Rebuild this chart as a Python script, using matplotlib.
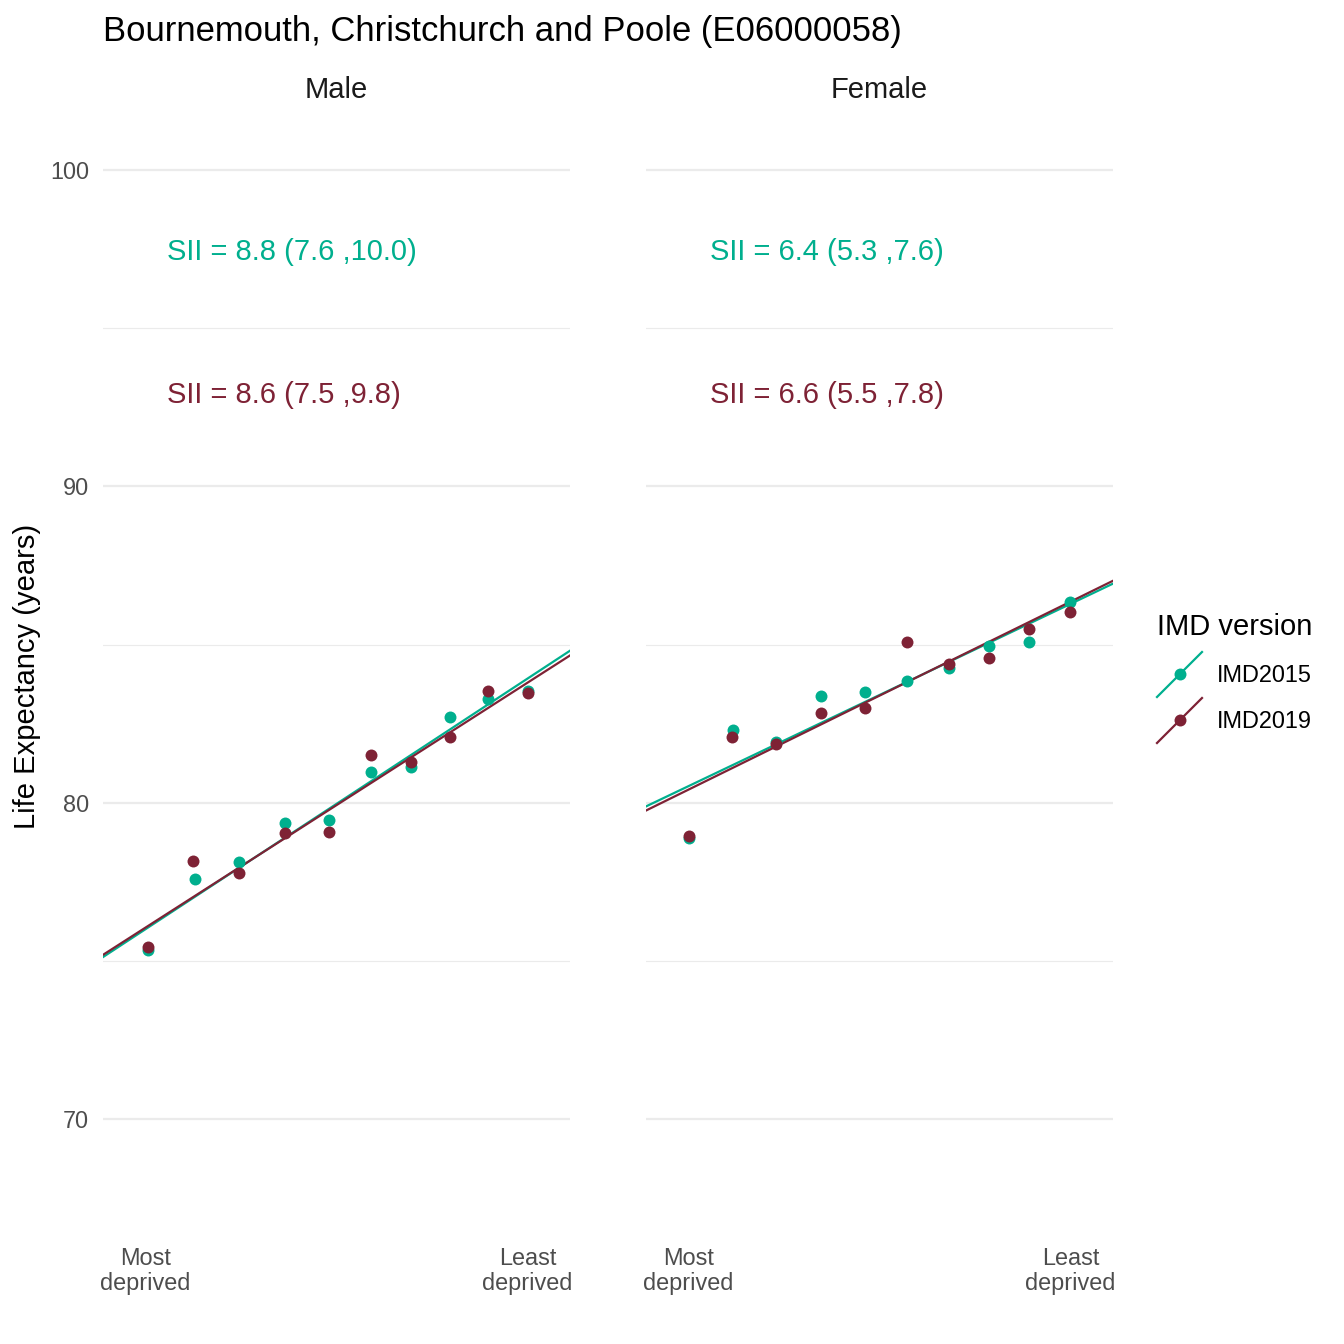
import matplotlib
matplotlib.use("Agg")
import matplotlib.pyplot as plt
from matplotlib.lines import Line2D

plt.rcParams['font.family'] = ['Liberation Sans', 'DejaVu Sans']

# ---- data ----
title = "Bournemouth, Christchurch and Poole (E06000058)"
panels = ["Male", "Female"]
versions = ["IMD2015", "IMD2019"]
colors = {"IMD2015": "#00AF8E", "IMD2019": "#7E2235"}

male_x_2015 = [0.055, 0.167, 0.270, 0.379, 0.482, 0.581, 0.675, 0.767, 0.858, 0.950]
male_x_2019 = [0.055, 0.162, 0.270, 0.379, 0.482, 0.581, 0.675, 0.767, 0.858, 0.950]
male_le_2015 = [75.36, 77.59, 78.13, 79.38, 79.46, 80.98, 81.15, 82.73, 83.27, 83.55]
male_le_2019 = [75.44, 78.15, 77.78, 79.04, 79.09, 81.52, 81.30, 82.08, 83.54, 83.47]

female_x_2015 = [0.052, 0.155, 0.256, 0.362, 0.466, 0.565, 0.663, 0.758, 0.852, 0.949]
female_x_2019 = [0.052, 0.153, 0.256, 0.362, 0.466, 0.565, 0.663, 0.758, 0.852, 0.949]
female_le_2015 = [78.88, 82.31, 81.91, 83.39, 83.51, 83.85, 84.25, 84.96, 85.07, 86.36]
female_le_2019 = [78.94, 82.07, 81.86, 82.85, 83.01, 85.09, 84.38, 84.57, 85.49, 86.02]

# regression (SII) lines: intercept at x=0 and slope = SII
male_intercept = {"IMD2015": 75.57, "IMD2019": 75.63}
female_intercept = {"IMD2015": 80.21, "IMD2019": 80.09}
male_sii = {"IMD2015": 8.8, "IMD2019": 8.6}
female_sii = {"IMD2015": 6.4, "IMD2019": 6.6}
male_sii_label = {"IMD2015": "SII = 8.8 (7.6 ,10.0)", "IMD2019": "SII = 8.6 (7.5 ,9.8)"}
female_sii_label = {"IMD2015": "SII = 6.4 (5.3 ,7.6)", "IMD2019": "SII = 6.6 (5.5 ,7.8)"}
label_y = {"IMD2015": 97.4, "IMD2019": 92.9}

y_ticks = [70, 80, 90, 100]
y_minor = [75, 85, 95]
x_ticks = [0.05, 0.95]
x_ticklabels = ["Most\ndeprived", "Least\ndeprived"]

# ---- figure ----
W = H = 1344
fig = plt.figure(figsize=(W / 100, H / 100), dpi=100)

def fx(px):
    return px / W

def fy(py):
    return 1 - py / H

panel_top, panel_bot = 106.7, 1246.0
panel_lefts = [103, 646]
panel_w = 467

data = {
    "Male": ({"IMD2015": (male_x_2015, male_le_2015), "IMD2019": (male_x_2019, male_le_2019)},
             male_intercept, male_sii, male_sii_label),
    "Female": ({"IMD2015": (female_x_2015, female_le_2015), "IMD2019": (female_x_2019, female_le_2019)},
               female_intercept, female_sii, female_sii_label),
}

tick_color = "#4D4D4D"
grid_color = "#EBEBEB"

for i, panel in enumerate(panels):
    left = panel_lefts[i]
    ax = fig.add_axes([fx(left), fy(panel_bot), panel_w / W, (panel_bot - panel_top) / H])
    ax.set_xlim(-0.05, 1.05)
    ax.set_ylim(66, 102)
    for s in ax.spines.values():
        s.set_visible(False)
    for v in y_ticks:
        ax.axhline(v, color=grid_color, lw=1.6, zorder=0)
    for v in y_minor:
        ax.axhline(v, color=grid_color, lw=0.8, zorder=0)
    pts, icpt, sii, labs = data[panel]
    for ver in versions:
        ax.axline((0, icpt[ver]), slope=sii[ver], color=colors[ver], lw=1.6, zorder=2)
    for ver in versions:
        xs, ys = pts[ver]
        ax.plot(xs, ys, 'o', color=colors[ver], ms=8.6, mew=0, zorder=3)
    for ver in versions:
        ax.text(0.1, label_y[ver], labs[ver], color=colors[ver], fontsize=21,
                ha='left', va='center')
    ax.set_yticks(y_ticks)
    if i == 0:
        ax.set_yticklabels([str(v) for v in y_ticks])
    else:
        ax.set_yticklabels([])
    ax.set_xticks(x_ticks)
    ax.set_xticklabels(x_ticklabels, linespacing=1.1)
    ax.tick_params(axis='both', length=0, colors=tick_color, labelsize=16.9)
    ax.tick_params(axis='y', pad=10)
    ax.tick_params(axis='x', pad=1)
    fig.text(fx(left + panel_w / 2), fy(90), panel, ha='center', va='center',
             fontsize=21, color="#1A1A1A")

fig.text(fx(103), fy(31), title, ha='left', va='center', fontsize=24.9, color='black')
fig.text(fx(27), fy(676), "Life Expectancy (years)", rotation=90, ha='center',
         va='center', fontsize=21, color='black')

# legend
fig.text(fx(1157), fy(627), "IMD version", ha='left', va='center', fontsize=21, color='black')
for j, ver in enumerate(versions):
    cy = 674 + 46 * j
    fig.add_artist(Line2D([fx(1157), fx(1202)], [fy(cy + 23), fy(cy - 22)],
                          color=colors[ver], lw=1.6, transform=fig.transFigure))
    fig.add_artist(Line2D([fx(1179.5)], [fy(cy)], marker='o', ms=8.6, mew=0,
                          color=colors[ver], transform=fig.transFigure))
    fig.text(fx(1217), fy(cy + 2), ver, ha='left', va='center', fontsize=16.9, color='black')

fig.savefig("out.png", dpi=100, facecolor='white')
